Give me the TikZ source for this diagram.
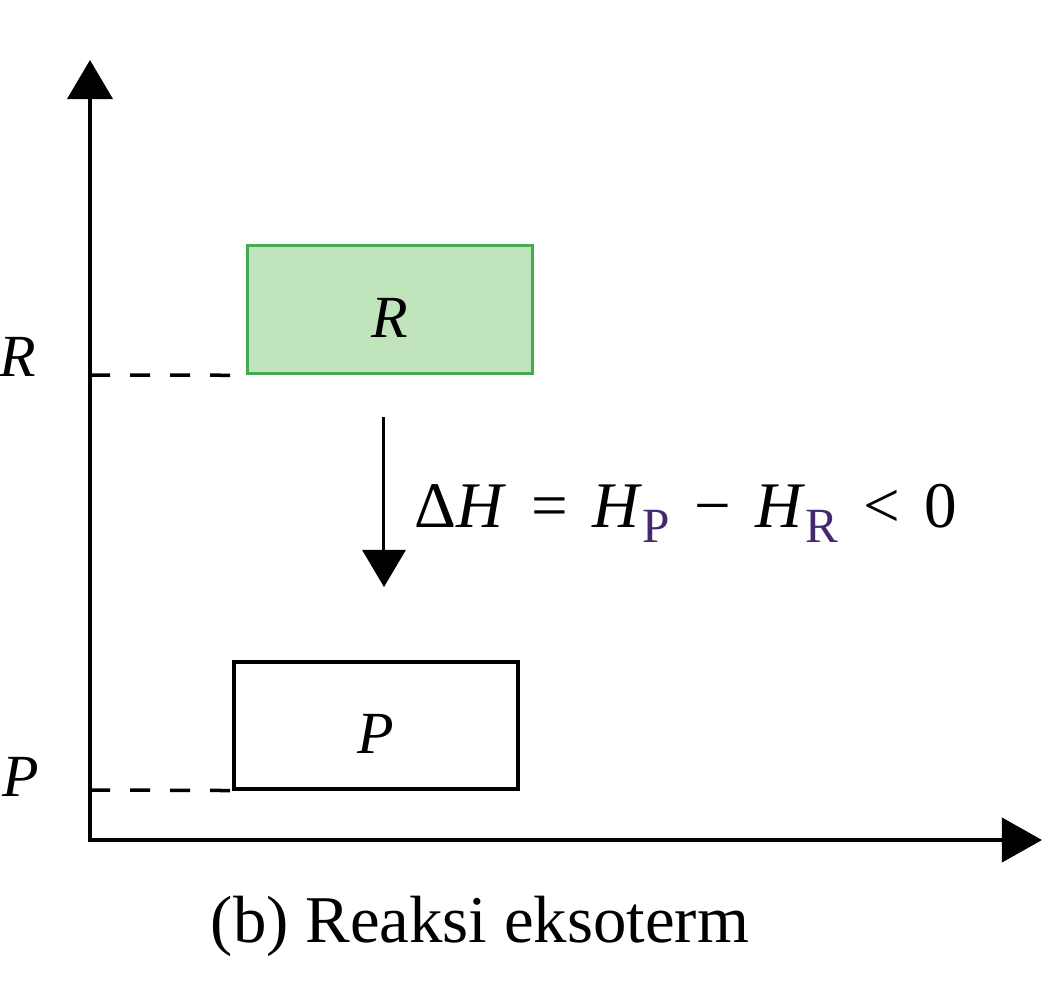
\documentclass[tikz,border=0pt]{standalone}
\usepackage{fontspec}
\setmainfont{Liberation Serif}
\usetikzlibrary{arrows.meta}
\definecolor{boxgreen}{RGB}{192,229,188}
\definecolor{edgegreen}{RGB}{70,170,80}
\definecolor{subpurple}{RGB}{70,40,110}
\newcommand\mysub[1]{\raisebox{-0.24em}{\fontsize{14}{14}\selectfont\textcolor{subpurple}{#1}}}
\newcommand\gapsp{\hspace{0.38em}}
\begin{document}
\begin{tikzpicture}[x=0.01cm,y=-0.01cm,
  axis/.style={line width=0.04cm,line join=miter,
    {Triangle[length=0.39cm,width=0.45cm]}-{Triangle[length=0.40cm,width=0.44cm]}},
  level/.style={line width=0.035cm,dash pattern=on 0.2cm off 0.2cm},
  boxtext/.style={font=\fontsize{17}{17}\selectfont\itshape,text height=0.56cm,text depth=0cm},
  rbox/.style={boxtext,draw=edgegreen,fill=boxgreen,line width=0.035cm,
    minimum width=2.85cm,minimum height=1.28cm,inner sep=0pt},
  pbox/.style={boxtext,draw=black,line width=0.04cm,
    minimum width=2.83cm,minimum height=1.26cm,inner sep=0pt},
  lab/.style={font=\fontsize{17}{17}\selectfont\itshape,inner sep=0pt},
  dharrow/.style={line width=0.03cm,-{Triangle[length=0.37cm,width=0.43cm]}},
  formula/.style={font=\fontsize{18.5}{18.5}\selectfont,inner sep=0pt},
  caption/.style={font=\fontsize{19}{19}\selectfont,inner sep=0pt}
]
\useasboundingbox (0,0) rectangle (1059,990);

% axes
\coordinate (O) at (90,840);
\coordinate (Ytip) at (90,60);
\coordinate (Xtip) at (1042,840);
\draw[axis] (Ytip) -- (O) -- (Xtip);

% boxes
\node[rbox] (Rbox) at (390,309.5) {R};
\node[pbox] (Pbox) at (376,725.5) {P};

% level lines
\coordinate (Rlev) at (90,375);
\coordinate (Plev) at (90,790);
\draw[level] (Rlev) -- (Rbox.south west);
\draw[level] (Plev) -- (Pbox.south west);

% axis labels
\node[lab] (Rlab) at (18,357) {R};
\node[lab] (Plab) at (21,777) {P};

% enthalpy change arrow
\coordinate (dhA) at (384,417);
\coordinate (dhB) at (384,587);
\draw[dharrow] (dhA) -- (dhB);
\node[formula,anchor=base west] (dh) at (414,527)
  {Δ\textit{H}\gapsp=\gapsp\textit{H}\mysub{P}\gapsp−\gapsp\textit{H}\mysub{R}\gapsp<\gapsp0};

% caption
\node[caption,anchor=base] (cap) at (480,942) {(b) Reaksi eksoterm};
\end{tikzpicture}
\end{document}
